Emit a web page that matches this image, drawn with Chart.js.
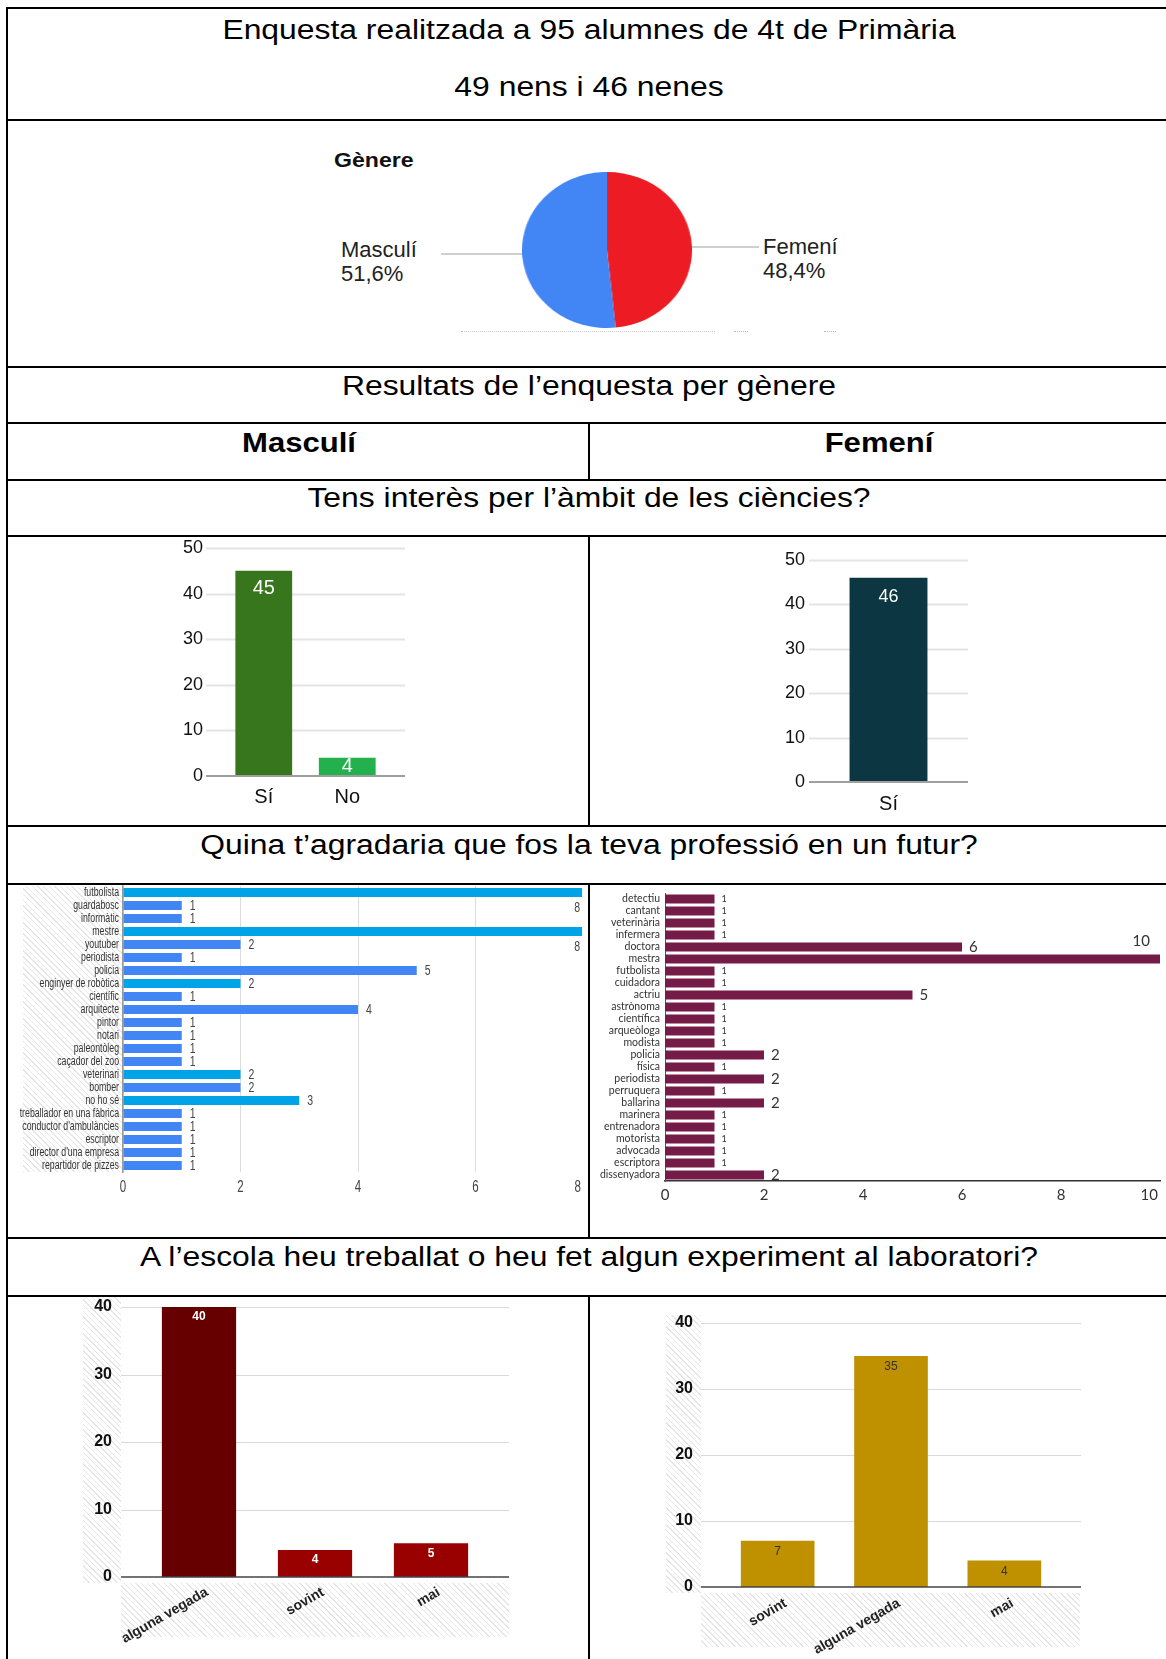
<!DOCTYPE html>
<html><head><meta charset="utf-8">
<script src="https://cdn.jsdelivr.net/npm/chart.js@4.4.1/dist/chart.umd.min.js"></script>
<style>
html,body{margin:0;padding:0;background:#fff;}
body{width:1166px;height:1659px;position:relative;overflow:hidden;font-family:'Liberation Sans',Arial,sans-serif;color:#000;}
.abs{position:absolute;}
.line{position:absolute;background:#000;z-index:5;}
.txt{position:absolute;white-space:nowrap;line-height:1;}
.hatch{position:absolute;background:repeating-linear-gradient(45deg,#e6e6e6 0px,#e6e6e6 1px,#fff 1px,#fff 4px);}
canvas{display:block;}
</style></head><body>
<script>
// ---------------- DATA ----------------
const genderLabels = ['Femení', 'Masculí'];
const genderShares = [48.4, 51.6];

const scienceLabelsM = ['Sí', 'No'];
const scienceValuesM = [45, 4];
const scienceLabelsF = ['Sí'];
const scienceValuesF = [46];
const scienceTicks = [0, 10, 20, 30, 40, 50];

const jobsM = ['futbolista','guardabosc','informàtic','mestre','youtuber','periodista','policia','enginyer de robòtica','científic','arquitecte','pintor','notari','paleontòleg','caçador del zoo','veterinari','bomber','no ho sé','treballador en una fàbrica',"conductor d'ambulàncies",'escriptor',"director d'una empresa",'repartidor de pizzes'];
const jobCountsM = [8,1,1,8,2,1,5,2,1,4,1,1,1,1,2,2,3,1,1,1,1,1];
const jobsHighlightM = ['futbolista','mestre','enginyer de robòtica','veterinari','no ho sé'];
const jobTicksM = [0, 2, 4, 6, 8];

const jobsF = ['detectiu','cantant','veterinària','infermera','doctora','mestra','futbolista','cuidadora','actriu','astrònoma','científica','arqueòloga','modista','policia','física','periodista','perruquera','ballarina','marinera','entrenadora','motorista','advocada','escriptora','dissenyadora'];
const jobCountsF = [1,1,1,1,6,10,1,1,5,1,1,1,1,2,1,2,1,2,1,1,1,1,1,2];
const jobTicksF = [0, 2, 4, 6, 8, 10];

const labLabelsM = ['alguna vegada', 'sovint', 'mai'];
const labValuesM = [40, 4, 5];
const labLabelsF = ['sovint', 'alguna vegada', 'mai'];
const labValuesF = [7, 35, 4];
const labTicks = [0, 10, 20, 30, 40];

// ---------------- PAGE HELPERS ----------------
function box(cls, x, y, w, h) {
  const d = document.createElement('div');
  d.className = cls;
  d.style.left = x + 'px'; d.style.top = y + 'px';
  d.style.width = w + 'px'; d.style.height = h + 'px';
  document.body.appendChild(d);
  return d;
}
function text(str, x, baseline, size, opts) {
  opts = opts || {};
  const d = document.createElement('div');
  d.className = 'txt';
  d.textContent = str;
  d.style.fontSize = size + 'px';
  d.style.top = (baseline - 0.8465 * size) + 'px';
  d.style.left = x + 'px';
  d.style.color = opts.color || '#000';
  if (opts.bold) d.style.fontWeight = 'bold';
  const sx = opts.sx || 1;
  if (opts.align === 'left') {
    d.style.transformOrigin = '0 0';
    d.style.transform = 'scaleX(' + sx + ')';
  } else {
    d.style.transform = 'translateX(-50%) scaleX(' + sx + ')';
  }
  document.body.appendChild(d);
  return d;
}
function makeCanvas(x, y, w, h, clipW) {
  const wrap = document.createElement('div');
  wrap.className = 'abs';
  wrap.style.left = x + 'px'; wrap.style.top = y + 'px';
  wrap.style.width = (clipW || w) + 'px'; wrap.style.height = h + 'px';
  wrap.style.overflow = 'hidden';
  const c = document.createElement('canvas');
  c.width = w; c.height = h;
  c.style.width = w + 'px'; c.style.height = h + 'px';
  wrap.appendChild(c);
  document.body.appendChild(wrap);
  return c;
}

// ---------------- TABLE ----------------
[7, 119, 366, 422, 479, 535, 825, 883, 1237, 1295].forEach(y => box('line', 6, y, 1170, 2));
box('line', 6, 7, 2, 1660);
[[422, 481], [535, 827], [883, 1239], [1295, 1660]].forEach(s => box('line', 588, s[0], 2, s[1] - s[0]));

const TS = 27, SX = 1.18;
text('Enquesta realitzada a 95 alumnes de 4t de Primària', 589, 40, TS, {sx: SX});
text('49 nens i 46 nenes', 589, 97, TS, {sx: SX});
text('Resultats de l’enquesta per gènere', 589, 396, TS, {sx: SX});
text('Masculí', 299, 453, TS, {sx: 1.15, bold: true});
text('Femení', 879, 453, TS, {sx: 1.15, bold: true});
text('Tens interès per l’àmbit de les ciències?', 589, 508, TS, {sx: SX});
text('Quina t’agradaria que fos la teva professió en un futur?', 589, 855, TS, {sx: SX});
text('A l’escola heu treballat o heu fet algun experiment al laboratori?', 589, 1267, TS, {sx: SX});

// pie decorations
text('Gènere', 334, 167, 21, {align: 'left', bold: true, sx: 1.1, color: '#111'});
text('Masculí', 341, 258, 22, {align: 'left', color: '#222'});
text('51,6%', 341, 282, 22, {align: 'left', color: '#222'});
text('Femení', 763, 255, 22, {align: 'left', color: '#222'});
text('48,4%', 763, 279, 22, {align: 'left', color: '#222'});
const l1 = box('abs', 441, 253, 88, 2); l1.style.background = '#cfcfcf';
const l2 = box('abs', 686, 246, 73, 2); l2.style.background = '#cfcfcf';
const dl = box('abs', 461, 331, 254, 0); dl.style.borderTop = '1px dotted #c8c8c8';
const dl2 = box('abs', 734, 331, 14, 0); dl2.style.borderTop = '1px dotted #bbb';
const dl3 = box('abs', 824, 331, 12, 0); dl3.style.borderTop = '1px dotted #bbb';

// hatched label areas
box('hatch', 23, 886, 100, 286);
box('hatch', 83, 1297, 38, 286);
box('hatch', 121, 1583, 388, 54);
box('hatch', 666, 1315, 35, 278);
box('hatch', 701, 1593, 379, 54);

// ---------------- PLUGINS ----------------
function drawScaled(ctx, s, x, y, sx) {
  ctx.save(); ctx.translate(x, y); ctx.scale(sx, 1); ctx.fillText(s, 0, 0); ctx.restore();
}
const valueLabels = {
  id: 'valueLabels',
  afterDatasetsDraw(chart, args, o) {
    if (!o || !o.mode) return;
    const ctx = chart.ctx;
    const meta = chart.getDatasetMeta(0);
    const data = chart.data.datasets[0].data;
    const sx = o.sx || 1;
    ctx.save();
    ctx.textBaseline = 'middle';
    meta.data.forEach((bar, i) => {
      const v = data[i];
      const s = String(v);
      ctx.fillStyle = o.color;
      ctx.font = (o.smallFont && v === 1) ? o.smallFont : o.font;
      if (o.mode === 'inside') {
        ctx.textAlign = 'center';
        let y = bar.y + o.offset;
        if (bar.base - bar.y < o.offset * 2) y = (bar.y + bar.base) / 2;
        drawScaled(ctx, s, bar.x, y, sx);
      } else {
        const w = ctx.measureText(s).width * sx;
        let x = bar.x + o.gap, y = bar.y;
        if (x + w > o.maxX) { ctx.textAlign = 'right'; x = o.maxX; y = bar.y + o.overflowDy; }
        else ctx.textAlign = 'left';
        drawScaled(ctx, s, x, y, sx);
      }
    });
    ctx.restore();
  }
};
const xTickLabels = {
  id: 'xTickLabels',
  afterDraw(chart, args, o) {
    if (!o || !o.enabled) return;
    const sc = chart.scales.x, ctx = chart.ctx;
    const sx = o.sx || 1;
    ctx.save();
    ctx.font = o.font; ctx.fillStyle = o.color;
    ctx.textBaseline = 'middle'; ctx.textAlign = 'center';
    sc.ticks.forEach(t => {
      const s = String(t.value);
      const w = ctx.measureText(s).width * sx;
      let x = sc.getPixelForValue(t.value);
      if (x + w / 2 > o.maxX) x = o.maxX - w / 2;
      drawScaled(ctx, s, x, chart.chartArea.bottom + o.dy, sx);
    });
    ctx.restore();
  }
};
const yTickLabels = {
  id: 'yTickLabels',
  afterDraw(chart, args, o) {
    if (!o || !o.enabled) return;
    const sc = chart.scales.y, ctx = chart.ctx;
    ctx.save();
    ctx.font = o.font; ctx.fillStyle = o.color;
    ctx.textBaseline = 'middle'; ctx.textAlign = 'right';
    chart.data.labels.forEach((lab, i) => {
      drawScaled(ctx, lab, chart.chartArea.left - o.pad, sc.getPixelForValue(i), o.sx || 1);
    });
    ctx.restore();
  }
};
const extGrid = {
  id: 'extGrid',
  beforeDatasetsDraw(chart, args, o) {
    if (!o || !o.enabled) return;
    const sc = chart.scales.y, ca = chart.chartArea, ctx = chart.ctx;
    ctx.save();
    ctx.strokeStyle = o.color; ctx.lineWidth = o.width || 1;
    sc.ticks.forEach(t => {
      if (t.value === 0) return;
      const y = Math.round(sc.getPixelForValue(t.value)) + 0.5;
      ctx.beginPath(); ctx.moveTo(ca.left - o.ext, y); ctx.lineTo(ca.right + o.ext, y); ctx.stroke();
    });
    ctx.restore();
  },
  afterDatasetsDraw(chart, args, o) {
    if (!o || !o.enabled) return;
    const sc = chart.scales.y, ca = chart.chartArea, ctx = chart.ctx;
    const y = sc.getPixelForValue(0);
    ctx.save();
    ctx.strokeStyle = o.zeroColor; ctx.lineWidth = o.zeroWidth;
    ctx.beginPath(); ctx.moveTo(ca.left - o.ext, y); ctx.lineTo(ca.right + o.ext, y); ctx.stroke();
    ctx.restore();
  }
};
Chart.register(valueLabels, xTickLabels, yTickLabels, extGrid);
Chart.defaults.font.family = "'Liberation Sans', Arial, sans-serif";
Chart.defaults.color = '#222';

const baseOpts = {responsive: false, animation: false, events: []};
const noPlug = {legend: {display: false}, tooltip: {enabled: false}};
const setTicks = arr => (s => { s.ticks = arr.map(v => ({value: v})); });
const fitY = w => (s => { s.width = w; s.paddingTop = 0; s.paddingBottom = 0; });
const fitX = h => (s => { s.height = h; s.paddingLeft = 0; s.paddingRight = 0; });

// ---------------- PIE ----------------
{
  const wrap = document.createElement('div');
  wrap.className = 'abs';
  wrap.style.left = '529px'; wrap.style.top = '172px';
  wrap.style.width = '156px'; wrap.style.height = '156px';
  wrap.style.transform = 'scaleX(1.09)';
  const c = document.createElement('canvas');
  c.width = 156; c.height = 156;
  wrap.appendChild(c); document.body.appendChild(wrap);
  new Chart(c, {
    type: 'pie',
    data: {labels: genderLabels, datasets: [{data: genderShares, backgroundColor: ['#ed1c24', '#4285f4'], borderWidth: 0}]},
    options: Object.assign({}, baseOpts, {plugins: noPlug, layout: {padding: 0}})
  });
}

// ---------------- SCIENCE: MALE ----------------
new Chart(makeCanvas(150, 537, 270, 287), {
  type: 'bar',
  data: {labels: scienceLabelsM, datasets: [{data: scienceValuesM, backgroundColor: ['#38761d', '#23b14d'], categoryPercentage: 1, barPercentage: 0.68}]},
  options: Object.assign({}, baseOpts, {
    layout: {padding: {top: 11, right: 31, left: 0, bottom: 0}},
    plugins: Object.assign({}, noPlug, {
      valueLabels: {mode: 'inside', offset: 18, color: '#fff', font: "20px 'Liberation Sans'"},
      extGrid: {enabled: true, ext: 16, color: '#e4e4e4', width: 2, zeroColor: '#9e9e9e', zeroWidth: 2}
    }),
    scales: {
      x: {grid: {display: false, drawTicks: false}, border: {display: false}, ticks: {font: {size: 20}, color: '#111', padding: 9}, afterFit: fitX(48)},
      y: {min: 0, max: 50, afterBuildTicks: setTicks(scienceTicks), grid: {display: false, drawTicks: false}, border: {display: false}, ticks: {font: {size: 18}, color: '#111', padding: 19}, afterFit: fitY(72)}
    }
  })
});

// ---------------- SCIENCE: FEMALE ----------------
new Chart(makeCanvas(750, 537, 240, 287), {
  type: 'bar',
  data: {labels: scienceLabelsF, datasets: [{data: scienceValuesF, backgroundColor: '#0c3641', categoryPercentage: 1, barPercentage: 0.49}]},
  options: Object.assign({}, baseOpts, {
    layout: {padding: {top: 23, right: 22, left: 0, bottom: 0}},
    plugins: Object.assign({}, noPlug, {
      valueLabels: {mode: 'inside', offset: 19, color: '#fff', font: "18px 'Liberation Sans'"},
      extGrid: {enabled: true, ext: 0, color: '#e4e4e4', width: 2, zeroColor: '#a0a0a0', zeroWidth: 2}
    }),
    scales: {
      x: {grid: {display: false, drawTicks: false}, border: {display: false}, ticks: {font: {size: 20}, color: '#111', padding: 10}, afterFit: fitX(42)},
      y: {min: 0, max: 50, afterBuildTicks: setTicks(scienceTicks), grid: {display: false, drawTicks: false}, border: {display: false}, ticks: {font: {size: 18}, color: '#111', padding: 4}, afterFit: fitY(59)}
    }
  })
});

// ---------------- PROFESSIONS: MALE ----------------
new Chart(makeCanvas(15, 885, 595, 345, 567), {
  type: 'bar',
  data: {labels: jobsM, datasets: [{
    data: jobCountsM,
    backgroundColor: jobsM.map(j => jobsHighlightM.includes(j) ? '#00a2e8' : '#4285f4'),
    categoryPercentage: 1, barPercentage: 0.68
  }]},
  options: Object.assign({}, baseOpts, {
    indexAxis: 'y',
    layout: {padding: {top: 1, right: 17, left: 0, bottom: 0}},
    plugins: Object.assign({}, noPlug, {
      valueLabels: {mode: 'end', gap: 8, maxX: 565, overflowDy: 15, color: '#444', font: "15px 'Liberation Sans'", sx: 0.7},
      xTickLabels: {enabled: true, font: "16px 'Liberation Sans'", color: '#444', dy: 16, maxX: 566, sx: 0.72},
      yTickLabels: {enabled: true, font: "12px 'Liberation Sans'", color: '#333', pad: 4, sx: 0.73}
    }),
    scales: {
      x: {type: 'linear', min: 0, max: 8, afterBuildTicks: setTicks(jobTicksM), ticks: {display: false}, grid: {color: '#dcdcdc', drawTicks: false}, border: {display: false}, afterFit: fitX(58)},
      y: {grid: {display: false, drawTicks: false}, border: {display: true, color: '#9a9a9a', width: 1.5}, ticks: {display: false, autoSkip: false}, afterFit: fitY(108)}
    }
  })
});

// ---------------- PROFESSIONS: FEMALE ----------------
new Chart(makeCanvas(600, 885, 566, 345), {
  type: 'bar',
  data: {labels: jobsF, datasets: [{data: jobCountsF, backgroundColor: '#741b47', categoryPercentage: 1, barPercentage: 0.75}]},
  options: Object.assign({}, baseOpts, {
    indexAxis: 'y',
    layout: {padding: {top: 8, right: 6, left: 0, bottom: 0}},
    plugins: Object.assign({}, noPlug, {
      valueLabels: {mode: 'end', gap: 7, maxX: 550, overflowDy: -18, color: '#333', font: "15px Lato, 'Liberation Sans'", smallFont: "9px Lato, 'Liberation Sans'"},
      xTickLabels: {enabled: true, font: "15px Lato, 'Liberation Sans'", color: '#333', dy: 14, maxX: 558}
    }),
    scales: {
      x: {type: 'linear', min: 0, max: 10, afterBuildTicks: setTicks(jobTicksF), ticks: {display: false}, grid: {display: false, drawTicks: false}, border: {display: true, color: '#333', width: 1.5}, afterFit: fitX(49)},
      y: {grid: {display: false, drawTicks: false}, border: {display: true, color: '#555', width: 1}, ticks: {autoSkip: false, font: {size: 10.5, family: "Lato, 'Liberation Sans'"}, color: '#333', padding: 5}, afterFit: fitY(65)}
    }
  })
});

// ---------------- LAB: MALE ----------------
new Chart(makeCanvas(60, 1297, 470, 362), {
  type: 'bar',
  data: {labels: labLabelsM, datasets: [{data: labValuesM, backgroundColor: ['#660000', '#990000', '#990000'], categoryPercentage: 1, barPercentage: 0.64}]},
  options: Object.assign({}, baseOpts, {
    layout: {padding: {top: 10, right: 41, left: 0, bottom: 0}},
    plugins: Object.assign({}, noPlug, {
      valueLabels: {mode: 'inside', offset: 10, color: '#fff', font: "bold 12px 'Liberation Sans'"},
      extGrid: {enabled: true, ext: 20, color: '#d9d9d9', width: 1, zeroColor: '#444', zeroWidth: 1.5}
    }),
    scales: {
      x: {grid: {display: false, drawTicks: false}, border: {display: false}, ticks: {font: {size: 14, weight: 'bold'}, color: '#222', padding: 7, labelOffset: 8, minRotation: 30, maxRotation: 30}, afterFit: fitX(82)},
      y: {min: 0, max: 40, afterBuildTicks: setTicks(labTicks), grid: {display: false, drawTicks: false}, border: {display: false}, ticks: {font: {size: 16, weight: 'bold'}, color: '#111', padding: 29}, afterFit: fitY(81)}
    }
  })
});

// ---------------- LAB: FEMALE ----------------
new Chart(makeCanvas(640, 1297, 460, 362), {
  type: 'bar',
  data: {labels: labLabelsF, datasets: [{data: labValuesF, backgroundColor: '#bf9000', categoryPercentage: 1, barPercentage: 0.65}]},
  options: Object.assign({}, baseOpts, {
    layout: {padding: {top: 26, right: 39, left: 0, bottom: 0}},
    plugins: Object.assign({}, noPlug, {
      valueLabels: {mode: 'inside', offset: 11, color: '#333', font: "12px 'Liberation Sans'"},
      extGrid: {enabled: true, ext: 20, color: '#d9d9d9', width: 1, zeroColor: '#444', zeroWidth: 1.5}
    }),
    scales: {
      x: {grid: {display: false, drawTicks: false}, border: {display: false}, ticks: {font: {size: 14, weight: 'bold'}, color: '#222', padding: 8, labelOffset: 8, minRotation: 30, maxRotation: 30}, afterFit: fitX(72)},
      y: {min: 0, max: 40, afterBuildTicks: setTicks(labTicks), grid: {display: false, drawTicks: false}, border: {display: false}, ticks: {font: {size: 16, weight: 'bold'}, color: '#111', padding: 28}, afterFit: fitY(81)}
    }
  })
});
</script>
</body></html>
